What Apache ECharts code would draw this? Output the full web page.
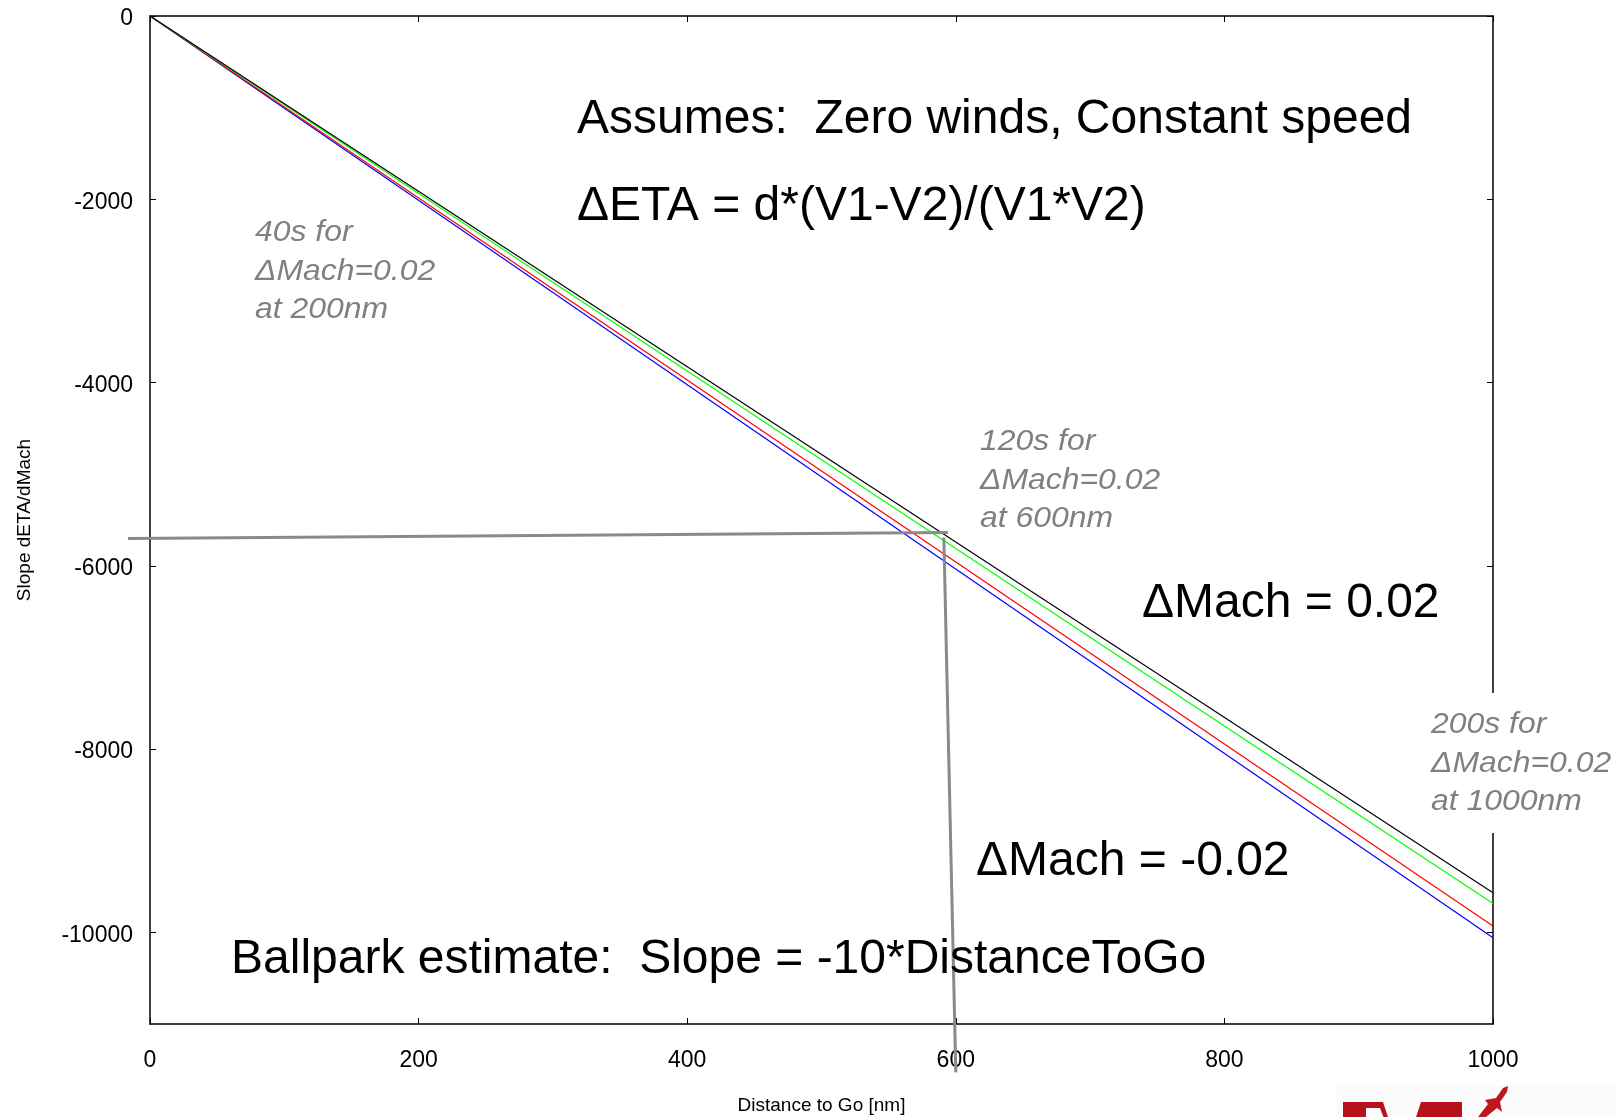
<!DOCTYPE html>
<html><head><meta charset="utf-8">
<script src="https://cdn.jsdelivr.net/npm/echarts@6/dist/echarts.min.js"></script>
<style>html,body{margin:0;padding:0;background:#fff}#c{width:1617px;height:1117px}</style>
</head><body><div id="c"></div>
<script>
// ---- data ----
const distance = [0, 1000];
const slopeBlack = [0, -9567];
const slopeGreen = [0, -9684];
const slopeRed = [0, -9931];
const slopeBlue = [0, -10058];
const yTickValues = [0, -2000, -4000, -6000, -8000, -10000];
// gray guide lines (data coordinates)
const guideHx = [-16.4, 594.1];
const guideHy = [-5701, -5636];
const guideVx = [591.1, 600.0];
const guideVy = [-5690, -11528];

const FONT = '"Liberation Sans", Arial, Helvetica, sans-serif';
const pairs = (xs, ys) => xs.map((x, i) => [x, ys[i]]);

const chart = echarts.init(document.getElementById('c'), null, {renderer: 'canvas'});

function lineSeries(name, ys, color) {
  return {
    name, type: 'line', data: pairs(distance, ys), symbol: 'none',
    lineStyle: {color, width: 1.2}, xAxisIndex: 0, yAxisIndex: 0, silent: true, animation: false
  };
}

const axisCommon = {
  axisLine: {show: true, onZero: false, lineStyle: {color: '#000', width: 1.5}},
  splitLine: {show: false}
};
const plain = v => String(v);

function grayText(x, y, lines) {
  return {
    type: 'text', x, y, scaleX: 1.1, z: 120,
    style: {
      text: lines.join('\n'), fill: '#808080', fontSize: 29, fontStyle: 'italic',
      fontFamily: FONT, lineHeight: 38.5, align: 'left', verticalAlign: 'top'
    }
  };
}
function bigText(x, y, t) {
  return {
    type: 'text', x, y, z: 110,
    style: {text: t, fill: '#000', fontSize: 48, fontFamily: FONT, align: 'left', verticalAlign: 'middle'}
  };
}

const option = {
  animation: false,
  backgroundColor: '#fff',
  grid: {left: 150, top: 16, width: 1343, height: 1008, containLabel: false, outerBoundsMode: 'none'},
  xAxis: [
    Object.assign({}, axisCommon, {
      type: 'value', min: 0, max: 1000, interval: 200, position: 'bottom',
      name: 'Distance to Go [nm]', nameLocation: 'middle', nameGap: 72,
      nameTextStyle: {fontSize: 19, fontFamily: FONT, color: '#000'},
      axisTick: {show: true, inside: true, length: 6, lineStyle: {color: '#000'}},
      axisLabel: {fontSize: 23, fontFamily: FONT, color: '#000', margin: 25, formatter: plain}
    }),
    Object.assign({}, axisCommon, {
      type: 'value', min: 0, max: 1000, interval: 200, position: 'top',
      axisTick: {show: true, inside: true, length: 6, lineStyle: {color: '#000'}},
      axisLabel: {show: false}
    })
  ],
  yAxis: [
    Object.assign({}, axisCommon, {
      type: 'value', min: -11000, max: 0, position: 'left',
      name: 'Slope dETA/dMach', nameLocation: 'middle', nameGap: 116, nameRotate: 90,
      nameTextStyle: {fontSize: 19, fontFamily: FONT, color: '#000'},
      axisTick: {show: true, inside: true, length: 6, customValues: yTickValues, lineStyle: {color: '#000'}},
      axisLabel: {fontSize: 23, fontFamily: FONT, color: '#000', margin: 17,
        customValues: yTickValues, formatter: v => '{t|' + v + '}',
        rich: {t: {fontSize: 23, fontFamily: FONT, color: '#000', padding: [6, 0, 0, 0]}}}
    }),
    Object.assign({}, axisCommon, {
      type: 'value', min: -11000, max: 0, position: 'right',
      axisTick: {show: true, inside: true, length: 6, customValues: yTickValues, lineStyle: {color: '#000'}},
      axisLabel: {show: false, customValues: yTickValues}
    })
  ],
  series: [
    lineSeries('blue', slopeBlue, '#0000ff'),
    lineSeries('red', slopeRed, '#ff0000'),
    lineSeries('green', slopeGreen, '#00ff00'),
    lineSeries('black', slopeBlack, '#000000')
  ],
  graphic: [
    bigText(577, 120, 'Assumes:  Zero winds, Constant speed'),
    bigText(577, 207, '\u0394ETA = d*(V1-V2)/(V1*V2)'),
    bigText(1142, 604, '\u0394Mach = 0.02'),
    bigText(976, 862, '\u0394Mach = -0.02'),
    bigText(231, 960, 'Ballpark estimate:  Slope = -10*DistanceToGo'),
    grayText(255, 214, ['40s for', '\u0394Mach=0.02', 'at 200nm']),
    grayText(980, 423, ['120s for', '\u0394Mach=0.02', 'at 600nm']),
    {type: 'rect', z: 100, shape: {x: 1420, y: 693, width: 197, height: 140}, style: {fill: '#fff'}},
    grayText(1431, 706, ['200s for', '\u0394Mach=0.02', 'at 1000nm']),
    // logo fragment (bottom right)
    {type: 'rect', z: 90, shape: {x: 1335, y: 1085, width: 282, height: 32}, style: {fill: '#fbfbfb'}},
    {type: 'polygon', z: 95, shape: {points: [[1343,1202],[1343,1102],[1383,1102],[1402,1160],[1421,1102],[1462,1102],[1462,1202]]}, style: {fill: '#b5121b'}},
    {type: 'polygon', z: 96, shape: {points: [[1366,1108],[1380,1108],[1396,1150],[1366,1150]]}, style: {fill: '#fbfbfb'}},
    {type: 'polygon', z: 95, shape: {points: [[1478,1117],[1488,1104],[1485,1100],[1496,1098],[1503,1088],[1508,1086],[1507,1092],[1500,1102],[1502,1112],[1497,1108],[1486,1117]]}, style: {fill: '#c0171f'}}
  ]
};
chart.setOption(option);

// gray guide lines, placed through the chart's own scales (may extend past the axes)
function guideLine(xs, ys) {
  const pts = pairs(xs, ys).map(p => chart.convertToPixel({xAxisIndex: 0, yAxisIndex: 0}, p));
  return {type: 'polyline', z: 105, silent: true, shape: {points: pts}, style: {stroke: '#8a8a8a', lineWidth: 3, fill: null}};
}
const baseGraphic = option.graphic.slice();
chart.setOption({graphic: baseGraphic.concat([guideLine(guideHx, guideHy), guideLine(guideVx, guideVy)])}, {replaceMerge: ['graphic']});
</script>
</body></html>
